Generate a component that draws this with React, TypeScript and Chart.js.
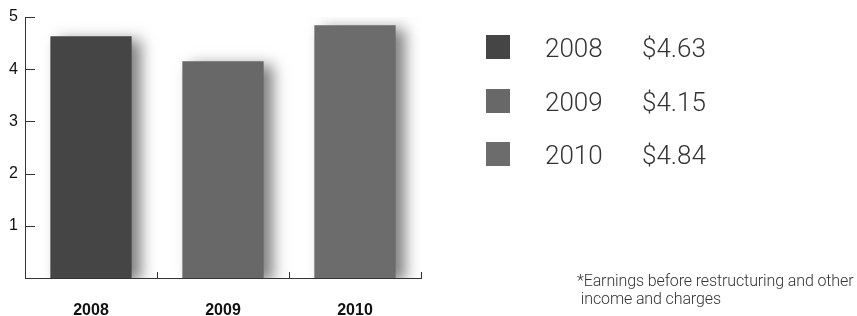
import React, { useEffect, useRef } from "react";
import { Chart, registerables } from "chart.js";

Chart.register(...registerables);

const categories = ["2008", "2009", "2010"];
const values = [4.63, 4.15, 4.84];
const barColors = ["#454545", "#686868", "#6c6c6c"];
const legendLabels = ["$4.63", "$4.15", "$4.84"];
const yTicks = [1, 2, 3, 4, 5];
const footnoteLines = ["*Earnings before restructuring and other", "\u00a0income and charges"];

const axisMarks = {
  id: "axisMarks",
  beforeDatasetsDraw(chart: any) {
    const ctx = chart.ctx;
    ctx.save();
    ctx.shadowColor = "rgba(0,0,0,0.5)";
    ctx.shadowBlur = 14;
    ctx.shadowOffsetX = 9;
    ctx.shadowOffsetY = 4;
  },
  afterDatasetsDraw(chart: any) {
    chart.ctx.restore();
  },
  afterDraw(chart: any) {
    const ctx = chart.ctx;
    const { left, bottom } = chart.chartArea;
    const y = chart.scales.y;
    const x = chart.scales.x;
    ctx.save();
    ctx.strokeStyle = "#333";
    ctx.lineWidth = 1;
    ctx.beginPath();
    yTicks.forEach((v) => {
      const py = Math.round(y.getPixelForValue(v)) + 0.5;
      ctx.moveTo(left, py);
      ctx.lineTo(left + 10, py);
    });
    for (let i = 0; i < categories.length; i++) {
      const px = Math.round(x.getPixelForValue(i) + (x.getPixelForValue(1) - x.getPixelForValue(0)) / 2) + 0.5;
      ctx.moveTo(px, bottom);
      ctx.lineTo(px, bottom - 6);
    }
    ctx.stroke();
    ctx.restore();
  },
};

export default function App() {
  const ref = useRef<HTMLCanvasElement>(null);
  useEffect(() => {
    document.body.style.margin = "0";
    const chart = new Chart(ref.current!, {
      type: "bar",
      data: {
        labels: categories,
        datasets: [
          {
            data: values,
            backgroundColor: barColors,
            borderWidth: 0,
            barPercentage: 0.77,
            categoryPercentage: 0.8,
          },
        ],
      },
      options: {
        animation: false,
        responsive: false,
        maintainAspectRatio: false,
        layout: { padding: { top: 17, right: 436, left: 0, bottom: 0 } },
        plugins: { legend: { display: false }, tooltip: { enabled: false } },
        scales: {
          x: {
            offset: true,
            grid: { display: false, drawTicks: false },
            border: { display: true, color: "#333", width: 1 },
            ticks: {
              padding: 23,
              color: "#111",
              font: { family: "Liberation Sans, Arial, sans-serif", size: 16, weight: "bold" },
            },
            afterFit(scale: any) {
              scale.height = 38;
            },
          },
          y: {
            min: 0,
            max: 5,
            grid: { display: false, drawTicks: false },
            border: { display: true, color: "#333", width: 1 },
            ticks: {
              stepSize: 1,
              padding: 7,
              color: "#111",
              font: { family: "Liberation Sans, Arial, sans-serif", size: 16 },
              callback: (v: any) => (v === 0 ? "" : String(v)),
            },
            afterFit(scale: any) {
              scale.width = 25;
            },
          },
        },
      },
      plugins: [axisMarks],
    });
    return () => chart.destroy();
  }, []);

  return (
    <div style={{ position: "relative", width: 857, height: 316, background: "#fff", overflow: "hidden" }}>
      <canvas ref={ref} width={857} height={316} style={{ position: "absolute", left: 0, top: 0 }} />
      {categories.map((c, i) => (
        <div key={c} style={{ position: "absolute", left: 486, top: 35 + i * 53.5, height: 24, display: "flex", alignItems: "center" }}>
          <div style={{ width: 24, height: 24, background: barColors[i] }} />
          <div
            style={{
              position: "absolute",
              left: 59,
              top: -4,
              font: "300 26px Roboto, 'Liberation Sans', sans-serif",
              color: "#333",
              whiteSpace: "nowrap",
              lineHeight: "34px",
            }}
          >
            {c}
          </div>
          <div
            style={{
              position: "absolute",
              left: 156,
              top: -4,
              font: "300 26px Roboto, 'Liberation Sans', sans-serif",
              color: "#333",
              whiteSpace: "nowrap",
              lineHeight: "34px",
            }}
          >
            {legendLabels[i]}
          </div>
        </div>
      ))}
      <div
        style={{
          position: "absolute",
          left: 577,
          top: 272,
          font: "300 16px Roboto, 'Liberation Sans', sans-serif",
          color: "#333",
          lineHeight: "18px",
          whiteSpace: "pre",
          letterSpacing: "-0.12px",
        }}
      >
        {footnoteLines.map((l) => (
          <div key={l}>{l}</div>
        ))}
      </div>
    </div>
  );
}
